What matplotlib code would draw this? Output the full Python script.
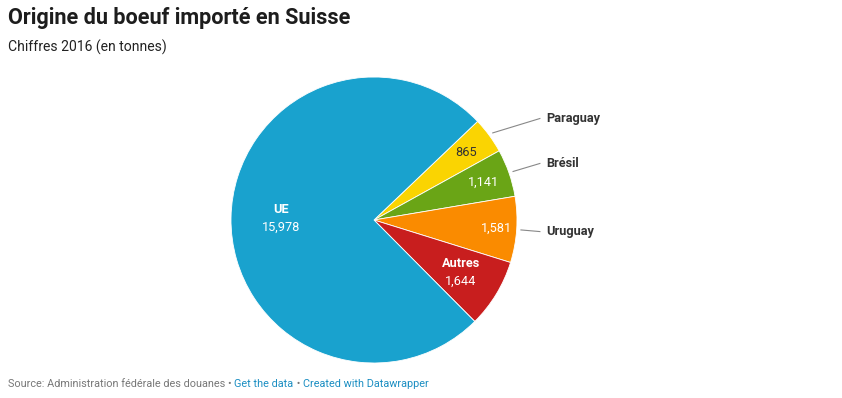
import numpy as np
import matplotlib
matplotlib.use("Agg")
import matplotlib.pyplot as plt

plt.rcParams['font.family'] = ['Roboto', 'DejaVu Sans']

# données (tonnes, 2016)
pays = ["Paraguay", "Brésil", "Uruguay", "Autres", "UE"]
tonnes = [865, 1141, 1581, 1644, 15978]
couleurs = ["#fad402", "#6aa516", "#fa8b00", "#c81e1e", "#19a2ce"]
etiq_dehors = ["Paraguay", "Brésil", "Uruguay"]

W, H = 842, 398
fig = plt.figure(figsize=(W / 100, H / 100), dpi=100)

cx, cy, r = 374, 220, 143
ax = fig.add_axes([(cx - r) / W, (H - cy - r) / H, 2 * r / W, 2 * r / H])

wedges, _ = ax.pie(tonnes, colors=couleurs, startangle=43.6, counterclock=False,
                   radius=1, wedgeprops=dict(edgecolor="white", linewidth=0.6))
ax.set_xlim(-1, 1)
ax.set_ylim(-1, 1)
ax.set_aspect("equal")
ax.axis("off")

fs = 9.2
dist = {"UE": 0.65, "Autres": 0.71, "Paraguay": 0.8, "Brésil": 0.81, "Uruguay": 0.86}
for w, nom, val in zip(wedges, pays, tonnes):
    mid = np.deg2rad((w.theta1 + w.theta2) / 2)
    txt = f"{val:,}"
    d = dist[nom]
    x, y = d * np.cos(mid), d * np.sin(mid)
    if nom in ("UE", "Autres"):
        ax.text(x, y + 0.063, nom, ha="center", va="center", color="white",
                fontsize=fs, fontweight="bold")
        ax.text(x, y - 0.063, txt, ha="center", va="center", color="white", fontsize=fs)
    else:
        col = "#333333" if nom == "Paraguay" else "white"
        ax.text(x, y, txt, ha="center", va="center", color=col, fontsize=fs)
    if nom in etiq_dehors:
        ly = 1.2 * np.sin(mid)
        ax.plot([1.03 * np.cos(mid), 1.16], [1.03 * np.sin(mid), ly],
                color="#888888", lw=0.8, clip_on=False)
        ax.text(1.205, ly, nom, ha="left", va="center", color="#333333",
                fontsize=fs, fontweight="bold", clip_on=False)

fig.text(8 / W, 1 - 18 / H, "Origine du boeuf importé en Suisse", fontsize=15.6,
         fontweight="bold", color="#1d1d1d", va="center", ha="left")
fig.text(8 / W, 1 - 47 / H, "Chiffres 2016 (en tonnes)", fontsize=10.1,
         color="#222222", va="center", ha="left")

# pied de page
y_f = 1 - 384 / H
fsf = 7.8
t1 = fig.text(8 / W, y_f, "Source: Administration fédérale des douanes • ",
              fontsize=fsf, color="#777777", va="center", ha="left")
fig.canvas.draw()
bb = t1.get_window_extent()
t2 = fig.text(bb.x1 / W, y_f, "Get the data", fontsize=fsf, color="#1b8ec2",
              va="center", ha="left")
bb = t2.get_window_extent()
t3 = fig.text(bb.x1 / W, y_f, " • ", fontsize=fsf, color="#777777", va="center", ha="left")
bb = t3.get_window_extent()
fig.text(bb.x1 / W, y_f, "Created with Datawrapper", fontsize=fsf, color="#1b8ec2",
         va="center", ha="left")

fig.savefig("out.png", dpi=100)
